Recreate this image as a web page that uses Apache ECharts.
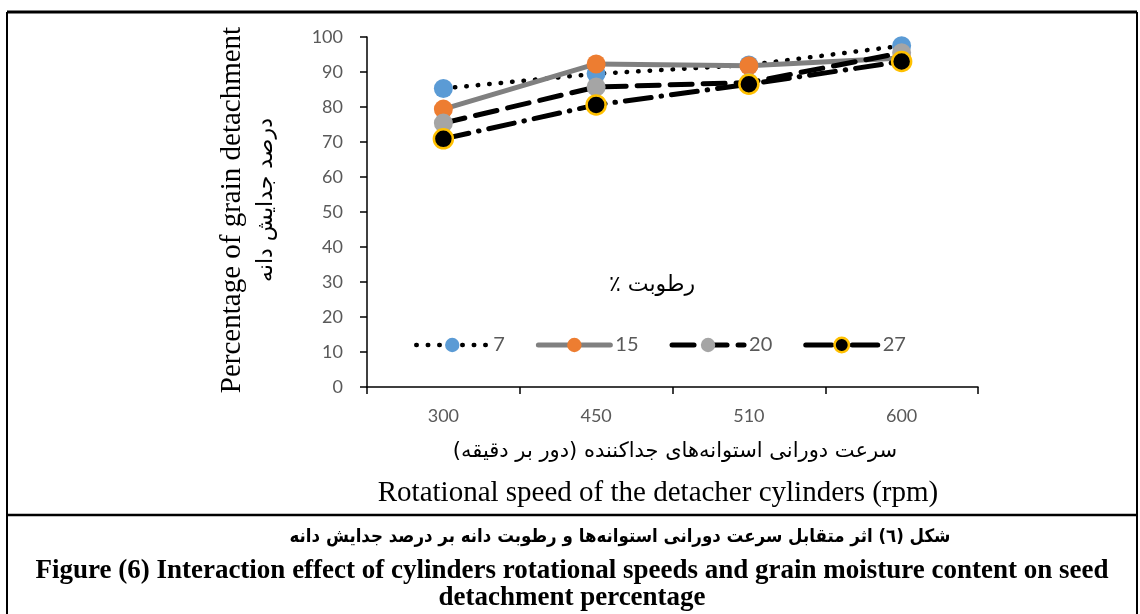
<!DOCTYPE html>
<html>
<head>
<meta charset="utf-8">
<script src="https://cdn.jsdelivr.net/npm/echarts@6/dist/echarts.min.js"></script>
<style>
  html, body { margin: 0; padding: 0; background: #fff; }
  #chart { width: 1140px; height: 614px; }
</style>
</head>
<body>
<div id="chart"></div>
<script>
// سرعت دورانی (rpm)
const speeds = ['300', '450', '510', '600'];
// رطوبت ٪
const moistureNames = ['7', '15', '20', '27'];
const m7 = [85.3, 89.5, 92, 97.5];
const m15 = [79.4, 92.3, 91.8, 94];
const m20 = [75.4, 85.7, 87, 95.5];
const m27 = [70.9, 80.6, 86.5, 93];
const yTicks = [0, 10, 20, 30, 40, 50, 60, 70, 80, 90, 100];

const chart = echarts.init(document.getElementById('chart'));

const labelGray = '#595959';
const RLM = '\u200F';

// styles per moisture level
const styles = [
    { color: '#5B9BD5', line: '#000', dash: [0.5, 11], width: 4.5 },
    { color: '#ED7D31', line: '#808080', dash: 'solid', width: 5 },
    { color: '#A5A5A5', line: '#000', dash: [22, 11], width: 5 },
    { color: '#000', line: '#000', dash: [26, 10, 0.5, 10], width: 5, border: '#FFC000' }
];
const values = [m7, m15, m20, m27];

function itemStyleOf(s) {
    return {
        color: s.color,
        borderColor: s.border || s.color,
        borderWidth: s.border ? 2.5 : 0
    };
}

const series = moistureNames.map((name, i) => {
    const s = styles[i];
    return {
        name: name,
        type: 'line',
        data: values[i],
        symbol: 'circle',
        symbolSize: 19,
        itemStyle: itemStyleOf(s),
        lineStyle: { color: s.line, width: s.width, type: s.dash, cap: 'round' },
        emphasis: { disabled: true }
    };
});

const legendData = moistureNames.map((name, i) => {
    const s = styles[i];
    return {
        name: name,
        itemStyle: itemStyleOf(s),
        lineStyle: { color: s.line, width: s.width, type: s.dash, cap: 'round' }
    };
});

const option = {
    animation: false,
    textStyle: { fontFamily: 'Lato' },
    grid: { left: 367, right: 162, top: 37, bottom: 227 },
    legend: {
        data: legendData,
        left: 409,
        top: 330,
        itemWidth: 72,
        itemHeight: 18,
        itemGap: 31,
        textStyle: { color: labelGray, fontSize: 20, fontFamily: 'Lato' }
    },
    xAxis: {
        type: 'category',
        data: speeds,
        boundaryGap: true,
        axisLine: { lineStyle: { color: '#000', width: 1.5 } },
        axisTick: { show: true, length: 7, lineStyle: { color: '#000', width: 1.5 } },
        axisLabel: { color: labelGray, fontSize: 18, margin: 20 },
        splitLine: { show: false }
    },
    yAxis: {
        type: 'value',
        min: yTicks[0],
        max: yTicks[yTicks.length - 1],
        interval: 10,
        axisLine: { show: true, lineStyle: { color: '#000', width: 1.5 } },
        axisTick: { show: true, length: 7, lineStyle: { color: '#000', width: 1.5 } },
        axisLabel: { color: labelGray, fontSize: 18, margin: 24 },
        splitLine: { show: false }
    },
    series: series,
    graphic: [
        // frame
        { type: 'line', shape: { x1: 7, y1: 12, x2: 1137, y2: 12 }, style: { stroke: '#000', lineWidth: 3 } },
        { type: 'line', shape: { x1: 7, y1: 12, x2: 7, y2: 614 }, style: { stroke: '#000', lineWidth: 2 } },
        { type: 'line', shape: { x1: 1137, y1: 12, x2: 1137, y2: 614 }, style: { stroke: '#000', lineWidth: 2 } },
        { type: 'line', shape: { x1: 7, y1: 515, x2: 1137, y2: 515 }, style: { stroke: '#000', lineWidth: 2.5 } },
        // legend title
        {
            type: 'text', x: 652, y: 285,
            style: { text: RLM + 'رطوبت ٪' + RLM, fill: '#000', font: '22px "DejaVu Sans"', align: 'center', verticalAlign: 'middle' }
        },
        // y axis titles
        {
            type: 'text', x: 232, y: 210, rotation: Math.PI / 2,
            style: { text: 'Percentage of grain detachment', fill: '#000', font: '29px "Liberation Serif"', align: 'center', verticalAlign: 'middle' }
        },
        {
            type: 'text', x: 266, y: 200, rotation: Math.PI / 2,
            style: { text: RLM + 'درصد جدایش دانه' + RLM, fill: '#000', font: '22px "DejaVu Sans"', align: 'center', verticalAlign: 'middle' }
        },
        // x axis titles
        {
            type: 'text', x: 675, y: 452,
            style: { text: RLM + 'سرعت دورانی استوانه‌های جداکننده (دور بر دقیقه)' + RLM, fill: '#000', font: '21px "DejaVu Sans"', align: 'center', verticalAlign: 'middle' }
        },
        {
            type: 'text', x: 658, y: 493,
            style: { text: 'Rotational speed of the detacher cylinders (rpm)', fill: '#000', font: '29px "Liberation Serif"', align: 'center', verticalAlign: 'middle' }
        },
        // caption
        {
            type: 'text', x: 620, y: 537,
            style: { text: RLM + 'شکل (٦) اثر متقابل سرعت دورانی استوانه‌ها و رطوبت دانه بر درصد جدایش دانه' + RLM, fill: '#000', font: 'bold 18.5px "DejaVu Sans Condensed", "DejaVu Sans"', align: 'center', verticalAlign: 'middle' }
        },
        {
            type: 'text', x: 572, y: 571,
            style: { text: 'Figure (6) Interaction effect of cylinders rotational speeds and grain moisture content on seed', fill: '#000', font: 'bold 27px "Liberation Serif"', align: 'center', verticalAlign: 'middle' }
        },
        {
            type: 'text', x: 572, y: 598,
            style: { text: 'detachment percentage', fill: '#000', font: 'bold 27px "Liberation Serif"', align: 'center', verticalAlign: 'middle' }
        }
    ]
};

chart.setOption(option);
</script>
</body>
</html>
